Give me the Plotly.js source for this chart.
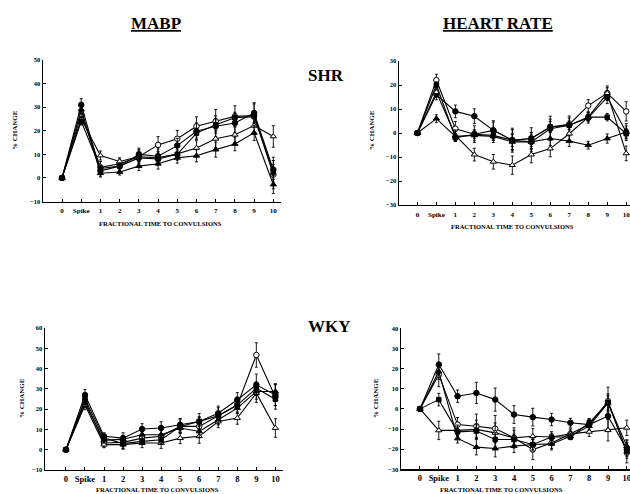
<!DOCTYPE html>
<html><head><meta charset="utf-8">
<script src="https://cdn.plot.ly/plotly-3.0.1.min.js"></script>
<style>html,body{margin:0;padding:0;background:#fff}#chart{width:630px;height:494px}</style>
</head><body><div id="chart"></div>
<script>
// ---- data ----
var categories = ['0','Spike','1','2','3','4','5','6','7','8','9','10'];

// MABP SHR
var mabpShr1 = [0, 27, 4.5, 6, 9, 14, 16.6, 21.9, 24, 26.1, 26.4, 1.4];
var mabpShr2 = [0, 31, 3, 5, 10, 9.2, 13.7, 19.8, 21.9, 23.3, 27.5, 3.5];
var mabpShr3 = [0, 25, 9.5, 7, 9, 8.5, 10.2, 12.7, 16.6, 18.3, 22.2, 17.6];
var mabpShr4 = [0, 29, 2, 2.5, 5, 6, 8.5, 9.4, 12, 14.4, 19.1, -2.8];
var mabpShr5 = [0, 24, 4, 5, 8.5, 8, 10, 19, 22.5, 25.5, 26, 2.5];
var mabpShrErr = [0, 3, 2.5, 2, 3, 3.5, 3.5, 4, 5, 4.5, 5, 6];

// HEART RATE SHR
var hrShr1 = [0, 22, 1.8, -0.5, 1.1, -3, -2.3, 2.5, 3.6, 11.4, 16.6, 9];
var hrShr2 = [0, 16, 9, 7, 1.1, -3, -3.7, 1.8, 3.2, 6.3, 14.9, 0.4];
var hrShr3 = [0, 17, -1, -9, -12, -13.4, -9, -6.5, -0.3, 6.6, 16.6, -8.5];
var hrShr4 = [0, 6, -1.4, -1, -1.4, -3.7, -3.7, -2.3, -3.4, -5.1, -2.3, 0.4];
var hrShr5 = [0, 20, -2, -0.5, -1, -3, -2.3, 2.5, 3.2, 6.6, 6.6, -0.3];
var hrShrErr = [0, 2.5, 3, 3.5, 4, 5, 4.5, 4.5, 3.5, 2.5, 3, 4];

// MABP WKY
var mabpWky1 = [0, 24, 3.3, 3.6, 5.7, 6.6, 11.5, 11.5, 16.7, 22, 46.7, 26];
var mabpWky2 = [0, 27, 6.6, 5.7, 10.2, 10.7, 12.3, 13.9, 18, 24.6, 32, 27];
var mabpWky3 = [0, 22, 2.5, 2.5, 3.3, 3.3, 5.7, 6.6, 13.9, 15.6, 27.9, 10.7];
var mabpWky4 = [0, 23, 4.6, 5.2, 7.4, 7.4, 10.7, 9, 14.8, 20.5, 28.7, 28.7];
var mabpWky5 = [0, 25, 5.7, 3, 4.1, 4.9, 11.5, 13.9, 16.7, 22, 30.3, 24.9];
var mabpWkyErr = [0, 3, 2, 3, 3, 3.5, 3.5, 4.5, 4, 4, 6, 6];

// HEART RATE WKY
var hrWky1 = [0, 17, -7.8, -8.6, -9.8, -14.4, -20.2, -16.9, -12.4, -7.8, 3.8, -21.8];
var hrWky2 = [0, 22, 6.3, 7.9, 4.6, -2.8, -4.1, -5.3, -6.9, -7.8, -3.6, -20.2];
var hrWky3 = [0, -10.7, -10.7, -10.2, -11.9, -14.4, -13.6, -14, -12.4, -11.4, -10.6, -9.4];
var hrWky4 = [0, 18.5, -14.7, -19, -19.7, -18.5, -17.7, -17.4, -13.6, -8.6, 3, -18.5];
var hrWky5 = [0, 4.6, -11.4, -11, -15.2, -15.2, -17.7, -14, -14, -6.9, 3, -21];
var hrWkyErr = [0, 6, 3.5, 6, 6.5, 5, 5, 3.5, 2.5, 3, 7, 5];

// ---- styles ----
var W = 630, H = 494;
var symbols = ['circle', 'circle', 'triangle-up', 'triangle-up', 'square'];
var fills = ['white', 'black', 'white', 'black', 'black'];
var sizes = [5.5, 5.5, 5.5, 5.5, 4.5];
var serif = 'Liberation Serif';

var panels = [
  {series: [mabpShr1, mabpShr2, mabpShr3, mabpShr4, mabpShr5], err: mabpShrErr,
   px: [43, 281], py: [60, 201.5], xr: [-0.99, 11.4], yr: [-10, 50], dt: 10, xfs: 7, so: 2},
  {series: [hrShr1, hrShr2, hrShr3, hrShr4, hrShr5], err: hrShrErr,
   px: [399, 630], py: [61, 205], xr: [-0.97, 11.2], yr: [-30, 30], dt: 10, xfs: 7, so: 2},
  {series: [mabpWky1, mabpWky2, mabpWky3, mabpWky4, mabpWky5], err: mabpWkyErr,
   px: [45, 283], py: [328, 470], xr: [-1.1, 11.4], yr: [-10, 60], dt: 10, xfs: 8.5, so: 0},
  {series: [hrWky1, hrWky2, hrWky3, hrWky4, hrWky5], err: hrWkyErr,
   px: [401, 630], py: [328.3, 469.3], xr: [-1.01, 11.17], yr: [-30, 40], dt: 10, xfs: 8.5, so: 0}
];

var traces = [];
var layout = {
  width: W, height: H, margin: {l: 0, r: 0, t: 0, b: 0},
  paper_bgcolor: 'white', plot_bgcolor: 'rgba(0,0,0,0)',
  showlegend: false, font: {family: serif, color: 'black'},
  annotations: []
};

panels.forEach(function (p, k) {
  var n = k + 1;
  var sfx = (n === 1 ? '' : String(n));
  var xa = 'x' + sfx, ya = 'y' + sfx;
  p.series.forEach(function (s, j) {
    traces.push({
      type: 'scatter', mode: 'lines+markers', x: categories, y: s,
      xaxis: xa, yaxis: ya, cliponaxis: false,
      line: {color: 'black', width: 1.1},
      marker: {symbol: symbols[j], size: sizes[j], color: fills[j], line: {color: 'black', width: 1}},
      error_y: {type: 'data', array: p.err.map(function (e) { return e * (1 - 0.12 * j); }),
                visible: true, color: 'black', thickness: 0.9, width: 1.5}
    });
  });
  var common = {
    showline: true, linecolor: 'black', linewidth: 1.4, showgrid: false, zeroline: false,
    ticks: 'inside', ticklen: 3, tickcolor: 'black', tickwidth: 1
  };
  layout['xaxis' + sfx] = Object.assign({}, common, {
    type: 'category', anchor: ya, range: p.xr,
    domain: [p.px[0] / W, p.px[1] / W],
    tickfont: {family: serif, size: p.xfs, weight: 'bold'}, ticklabelstandoff: p.so
  });
  layout['yaxis' + sfx] = Object.assign({}, common, {
    anchor: xa, range: p.yr, dtick: p.dt,
    domain: [1 - p.py[1] / H, 1 - p.py[0] / H],
    tickfont: {family: serif, size: 6.5, weight: 'bold'}
  });
});

function ann(text, x, y, size, extra) {
  var a = Object.assign({text: text, x: x / W, y: 1 - y / H, xref: 'paper', yref: 'paper',
    showarrow: false, xanchor: 'center', yanchor: 'middle',
    font: {family: serif, size: size, color: 'black', weight: 'bold'}}, extra || {});
  layout.annotations.push(a);
}
ann('MABP', 156, 23, 17, {font: {family: serif, size: 17, color: 'black', weight: 'bold', lineposition: 'under'}});
ann('HEART RATE', 498, 23, 17, {font: {family: serif, size: 17, color: 'black', weight: 'bold', lineposition: 'under'}});
ann('SHR', 326, 75, 17);
ann('WKY', 329, 326, 17);
ann('FRACTIONAL TIME TO CONVULSIONS', 160, 223, 6.5);
ann('FRACTIONAL TIME TO CONVULSIONS', 512, 226, 6.5);
ann('FRACTIONAL TIME TO CONVULSIONS', 157, 489, 6.5);
ann('FRACTIONAL TIME TO CONVULSIONS', 502, 489, 6.5);
ann('% CHANGE', 15, 130, 7, {textangle: -90});
ann('% CHANGE', 372, 130, 7, {textangle: -90});
ann('% CHANGE', 22, 398, 7, {textangle: -90});
ann('% CHANGE', 376, 398, 7, {textangle: -90});

Plotly.newPlot('chart', traces, layout, {displayModeBar: false, staticPlot: true});
</script></body></html>
